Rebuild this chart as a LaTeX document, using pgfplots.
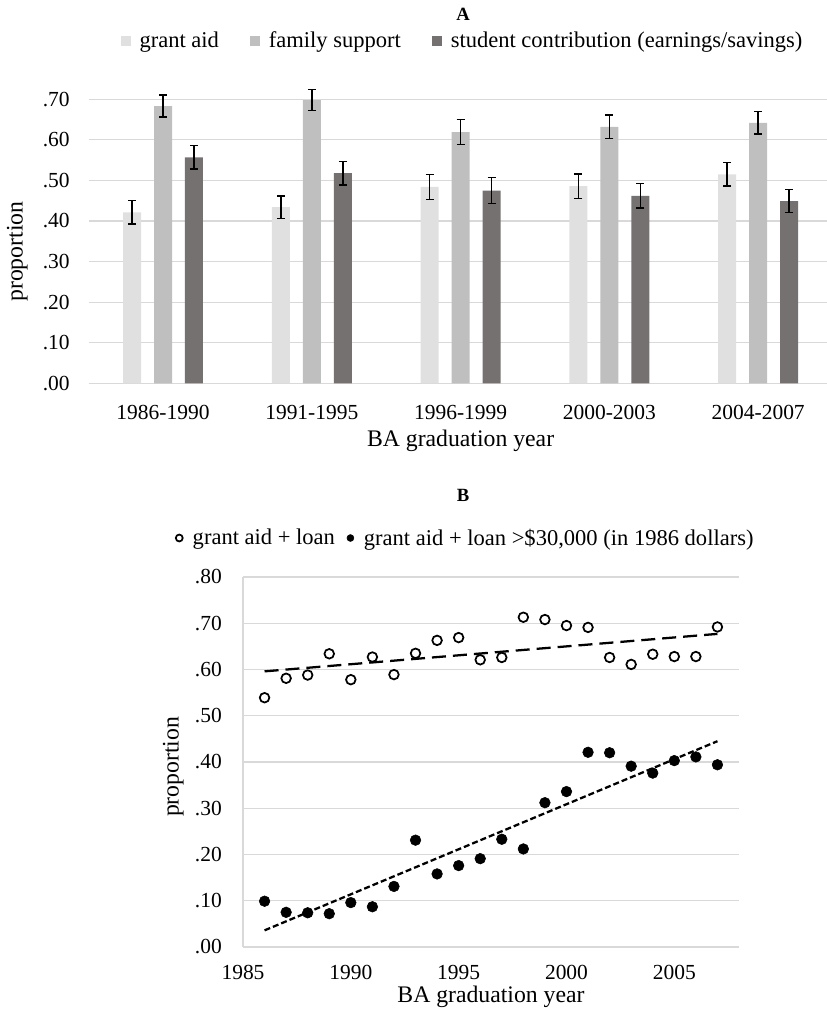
\documentclass[border=0pt]{standalone}
\usepackage{fontspec}
\setmainfont{Liberation Serif}
\usepackage{pgfplots}
\pgfplotsset{compat=1.18}
\usepackage{pgfplotstable}
\definecolor{cgrant}{HTML}{E0E0E0}
\definecolor{cfam}{HTML}{BFBFBF}
\definecolor{cstud}{HTML}{767171}
\definecolor{gridgray}{HTML}{D9D9D9}

% bar centres: group index -0.2083 / 0 / +0.2083
\pgfplotstableread{
xg xf xs g ge f fe s se
-0.2083 0 0.2083 0.421 0.029 0.683 0.027 0.557 0.029
0.7917 1 1.2083 0.434 0.028 0.698 0.026 0.518 0.029
1.7917 2 2.2083 0.484 0.031 0.619 0.031 0.475 0.032
2.7917 3 3.2083 0.486 0.030 0.632 0.029 0.462 0.030
3.7917 4 4.2083 0.515 0.029 0.642 0.028 0.449 0.028
}\dataA

\pgfplotstableread{
year open filled
1986 0.539 0.099
1987 0.581 0.075
1988 0.588 0.074
1989 0.634 0.072
1990 0.578 0.096
1991 0.627 0.087
1992 0.589 0.131
1993 0.635 0.231
1994 0.663 0.158
1995 0.669 0.176
1996 0.621 0.191
1997 0.626 0.233
1998 0.713 0.212
1999 0.708 0.312
2000 0.695 0.336
2001 0.691 0.421
2002 0.626 0.420
2003 0.611 0.391
2004 0.633 0.376
2005 0.628 0.403
2006 0.628 0.411
2007 0.692 0.394
}\dataB

\pgfplotsset{
  sqlegend/.style={legend image code/.code={\fill[##1,draw=none] (0pt,-3.75pt) rectangle (7.5pt,3.75pt);}},
  every axis title shift=0pt,
}

\begin{document}
\begin{tikzpicture}
\useasboundingbox (0,0) rectangle (620.25pt,756.75pt);

% ---------------- Panel A ----------------
\begin{axis}[
  at={(66.45pt,469.3pt)}, anchor=south west,
  width=558pt, height=213pt, scale only axis,
  xmin=-0.5, xmax=4.5, ymin=0, ymax=0.7,
  clip=false,
  axis line style={draw=none},
  major tick length=0pt,
  ymajorgrids, grid style={gridgray, line width=0.9pt},
  xtick={0,1,2,3,4},
  xticklabels={1986-1990,1991-1995,1996-1999,2000-2003,2004-2007},
  ytick={0,0.1,0.2,0.3,0.4,0.5,0.6,0.7},
  yticklabels={.00,.10,.20,.30,.40,.50,.60,.70},
  tick label style={font=\fontsize{16.1}{19}\selectfont},
  xticklabel style={anchor=north, inner sep=0pt, yshift=-16.3pt},
  yticklabel style={anchor=east, inner sep=0pt, xshift=-14pt},
  xlabel={BA graduation year},
  ylabel={proportion},
  label style={font=\fontsize{17.8}{21}\selectfont},
  xlabel style={at={(axis description cs:0.5,-0.2032)}, anchor=center},
  ylabel style={at={(axis description cs:-0.0958,0.4634)}, anchor=center},
  title={A},
  title style={at={(axis description cs:0.5032,1.2993)}, anchor=center, yshift=0pt, font=\bfseries\fontsize{14}{16}\selectfont},
  legend style={at={(0.5032,1.2053)}, anchor=center, draw=none, fill=none,
    inner sep=0pt, font=\fontsize{16.9}{20}\selectfont,
    /tikz/every odd column/.append style={column sep=4.5pt},
    /tikz/every even column/.append style={column sep=21.4pt}},
  legend columns=-1,
  error bars/y dir=both,
  error bars/y explicit,
  error bars/error bar style={black, line width=1.1pt},
  error bars/error mark options={rotate=90, mark size=3pt, black, line width=1.1pt},
]
\addplot[ybar, bar width=13.5pt, bar shift=0pt, fill=cgrant, draw=none, sqlegend]
  table[x=xg, y=g, y error=ge] {\dataA};
\addlegendentry{grant aid}
\addplot[ybar, bar width=13.5pt, bar shift=0pt, fill=cfam, draw=none, sqlegend]
  table[x=xf, y=f, y error=fe] {\dataA};
\addlegendentry{family support}
\addplot[ybar, bar width=13.5pt, bar shift=0pt, fill=cstud, draw=none, sqlegend]
  table[x=xs, y=s, y error=se] {\dataA};
\addlegendentry{student contribution (earnings/savings)}
\end{axis}

% ---------------- Panel B ----------------
\begin{axis}[
  at={(182.25pt,46.5pt)}, anchor=south west,
  width=372pt, height=277.5pt, scale only axis,
  xmin=1985, xmax=2008, ymin=0, ymax=0.8,
  clip=false,
  axis lines*=left,
  axis line style={gridgray, line width=0.9pt},
  major tick length=0pt,
  ymajorgrids, grid style={gridgray, line width=0.9pt},
  xtick={1985,1990,1995,2000,2005},
  xticklabels={1985,1990,1995,2000,2005},
  ytick={0,0.1,0.2,0.3,0.4,0.5,0.6,0.7,0.8},
  yticklabels={.00,.10,.20,.30,.40,.50,.60,.70,.80},
  tick label style={font=\fontsize{16.1}{19}\selectfont},
  xticklabel style={anchor=north, inner sep=0pt, yshift=-13.5pt},
  yticklabel style={anchor=east, inner sep=0pt, xshift=-15.75pt},
  xlabel={BA graduation year},
  ylabel={proportion},
  label style={font=\fontsize{17.8}{21}\selectfont},
  xlabel style={at={(axis description cs:0.5,-0.1351)}, anchor=center},
  ylabel style={at={(axis description cs:-0.1405,0.487)}, anchor=center},
  title={B},
  title style={at={(axis description cs:0.4435,1.2208)}, anchor=center, yshift=0pt, font=\bfseries\fontsize{14}{16}\selectfont},
  legend style={at={(0.4496,1.1054)}, anchor=center, draw=none, fill=none,
    inner sep=0pt, font=\fontsize{16.9}{20}\selectfont,
    /tikz/every odd column/.append style={column sep=5.5pt},
    /tikz/every even column/.append style={column sep=7pt}},
  legend columns=-1,
  legend image code/.code={\draw[#1, /tikz/mark size=2.6pt] plot coordinates {(2.6pt,0pt)};},
]
\addplot[black, line width=1.7pt, dash pattern=on 10.5pt off 5.25pt, forget plot]
  coordinates {(1986,0.596) (2007,0.677)};
\addplot[black, line width=1.7pt, dash pattern=on 4.5pt off 2.25pt, forget plot]
  coordinates {(1986,0.036) (2007,0.445)};
\addplot[only marks, mark=*, mark size=3.6pt, mark options={draw=black, fill=white, line width=1.3pt}]
  table[x=year, y=open] {\dataB};
\addlegendentry{grant aid + loan}
\addplot[only marks, mark=*, mark size=4pt, mark options={draw=black, fill=black, line width=0.4pt}]
  table[x=year, y=filled] {\dataB};
\addlegendentry{grant aid + loan >\$30,000 (in 1986 dollars)}
\end{axis}
\end{tikzpicture}
\end{document}
